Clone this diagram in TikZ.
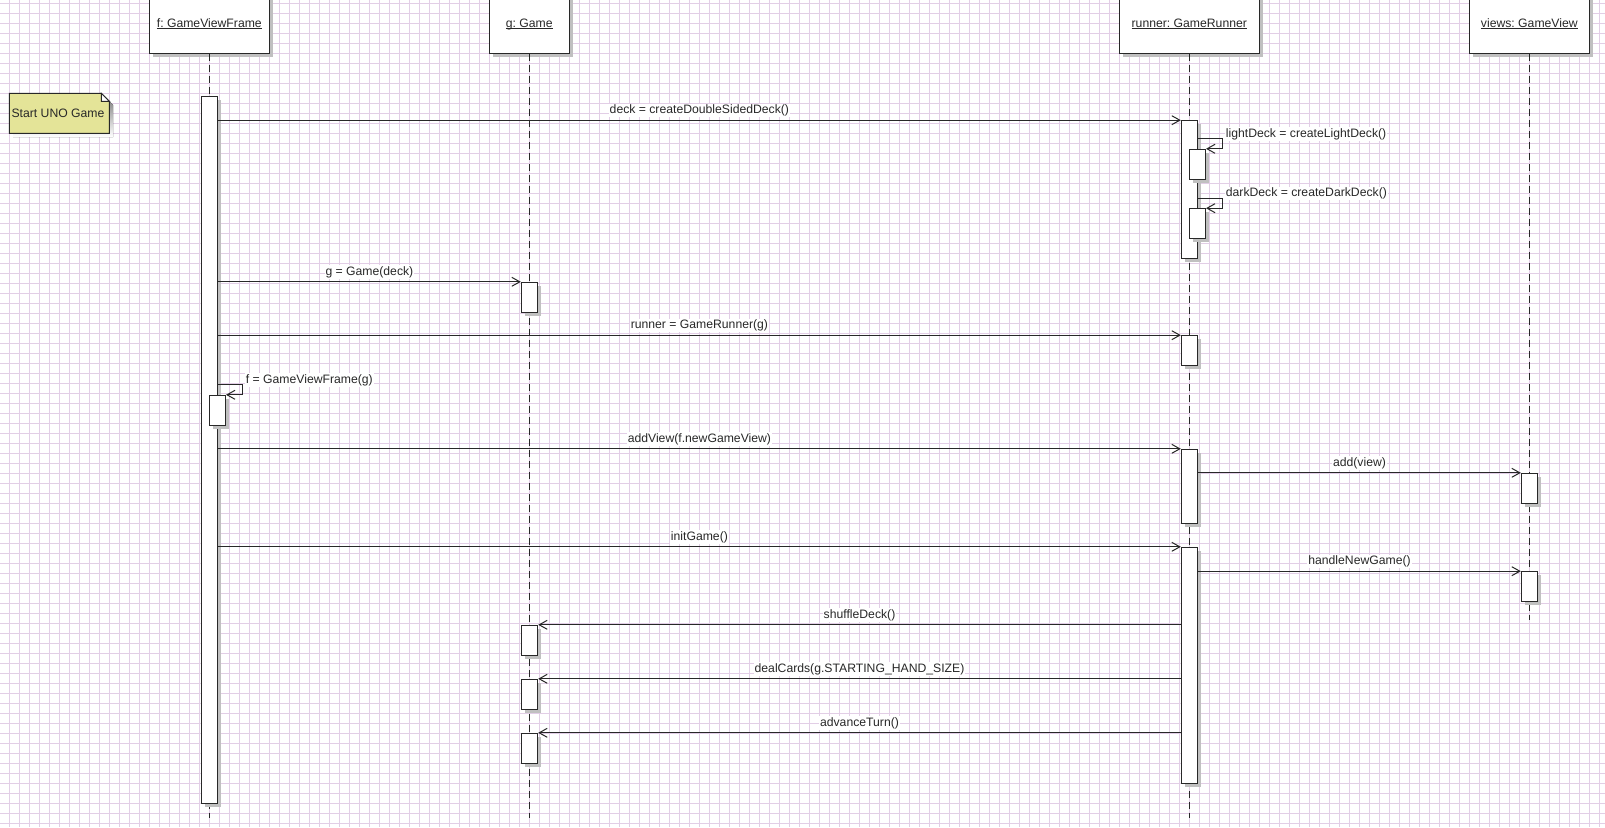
\documentclass[tikz,border=0pt]{standalone}
\usepackage{fontspec}
\setmainfont{Liberation Sans}
\usetikzlibrary{arrows.meta,shadows,calc}
\frenchspacing

\definecolor{gridc}{RGB}{226,206,230}
\definecolor{ink}{RGB}{40,40,40}
\definecolor{shade}{RGB}{192,192,192}
\definecolor{notefill}{RGB}{228,228,152}

% underlined object name with a fixed rule position
\newcommand{\objname}[1]{\setbox0\hbox{#1}\rlap{\color{ink}\rule[-2.3pt]{\wd0}{1pt}}\box0}

\tikzset{
  every node/.style={font=\fontsize{12.2}{14}\selectfont, text=ink},
  shadowed/.style={drop shadow={shadow xshift=3.5pt, shadow yshift=-3.5pt, fill=shade, opacity=1}},
  head/.style={draw=ink, line width=1pt, fill=white, minimum height=58.3pt,
    inner sep=0pt, text height=9pt, text depth=3pt, shadowed},
  bar/.style={draw=ink, line width=1pt, fill=white, minimum width=16.4pt,
    inner sep=0pt, shadowed},
  life/.style={draw=ink, line width=1pt, dash pattern=on 7pt off 4pt},
  msg/.style={draw=ink, line width=1pt, -{Straight Barb[length=8pt,width=9pt]}},
  lbl/.style={fill=white, inner sep=1pt, anchor=base, yshift=6.7pt},
  selflbl/.style={fill=white, inner sep=1pt, anchor=base west, xshift=2pt, yshift=1.8pt},
  gridline/.style={draw=gridc, line width=1pt},
}

\begin{document}
\begin{tikzpicture}[x=1pt, y=-1pt]
  \useasboundingbox (0,0) rectangle (1605,827);
  \fill[white] (0,0) rectangle (1605,827);

  % background grid
  \foreach \i in {0,...,159} \draw[gridline] ({9.5+10*\i},0) -- ({9.5+10*\i},827);
  \foreach \j in {0,...,82} \draw[gridline] (0,{3.5+10*\j}) -- (1605,{3.5+10*\j});

  % note
  \fill[shade] (13,97) -- (105,97) -- (113,105) -- (113,137) -- (13,137) -- cycle;
  \draw[ink, line width=1pt, fill=notefill]
    (9.3,93.3) -- (101.3,93.3) -- (109.3,101.3) -- (109.3,133.3) -- (9.3,133.3) -- cycle;
  \draw[ink, line width=1pt, fill=white] (101.3,93.3) -- (101.3,101.3) -- (109.3,101.3) -- cycle;
  \node (note) at (58,113.3) {Start UNO Game};

  % object heads
  \node[head, minimum width=120pt] (f) at (209.3,24.15) {\objname{f: GameViewFrame}};
  \node[head, minimum width=80pt]  (g) at (529.3,24.15) {\objname{g: Game}};
  \node[head, minimum width=140pt] (r) at (1189.3,24.15) {\objname{runner: GameRunner}};
  \node[head, minimum width=120pt] (v) at (1529.3,24.15) {\objname{views: GameView}};

  % lifeline ends
  \coordinate (fend) at (209.3,818);
  \coordinate (gend) at (529.3,818);
  \coordinate (rend) at (1189.3,818);
  \coordinate (vend) at (1529.3,620);

  \draw[life] (f.south) -- (fend);
  \draw[life] (g.south) -- (gend);
  \draw[life] (r.south) -- (rend);
  \draw[life] (v.south) -- (vend);

  % activation bars
  \node[bar, minimum height=706.6pt] (fA) at (209.3,450) {};
  \node[bar, minimum height=30pt] (fB) at (217.3,410.3) {};

  \node[bar, minimum height=30pt] (gA) at (529.5,297.3) {};
  \node[bar, minimum height=30pt] (gB) at (529.5,640.3) {};
  \node[bar, minimum height=30pt] (gC) at (529.5,694.3) {};
  \node[bar, minimum height=30pt] (gD) at (529.5,748.3) {};

  \node[bar, minimum height=137.6pt] (rA) at (1189.5,189.5) {};
  \node[bar, minimum height=30pt] (rB) at (1197.3,164.3) {};
  \node[bar, minimum height=30pt] (rC) at (1197.3,223.7) {};
  \node[bar, minimum height=30pt] (rD) at (1189.5,350.7) {};
  \node[bar, minimum height=74pt] (rE) at (1189.5,486.3) {};
  \node[bar, minimum height=235.7pt] (rF) at (1189.5,665.15) {};

  \node[bar, minimum height=30pt] (vA) at (1529.5,488.3) {};
  \node[bar, minimum height=30pt] (vB) at (1529.5,586.7) {};

  % messages
  \draw[msg] (fA.east |- rA.north) -- node[midway, lbl] {deck = createDoubleSidedDeck()} (rA.north west);

  \draw[msg] ($(rA.east |- rB.north)+(0,-10)$) -| ($(rB.north east)+(16.4,0)$)
    node[pos=0.5, selflbl] {lightDeck = createLightDeck()} -- (rB.north east);
  \draw[msg] ($(rA.east |- rC.north)+(0,-10)$) -| ($(rC.north east)+(16.4,0)$)
    node[pos=0.5, selflbl] {darkDeck = createDarkDeck()} -- (rC.north east);

  \draw[msg] (fA.east |- gA.north) -- node[midway, lbl] {g = Game(deck)} (gA.north west);
  \draw[msg] (fA.east |- rD.north) -- node[midway, lbl] {runner = GameRunner(g)} (rD.north west);

  \draw[msg] ($(fA.east |- fB.north)+(0,-10)$) -| ($(fB.north east)+(16.4,0)$)
    node[pos=0.5, selflbl] {f = GameViewFrame(g)} -- (fB.north east);

  \draw[msg] (fA.east |- rE.north) -- node[midway, lbl] {addView(f.newGameView)} (rE.north west);
  \draw[msg] (rE.east |- vA.north) -- node[midway, lbl] {add(view)} (vA.north west);
  \draw[msg] (fA.east |- rF.north) -- node[midway, lbl] {initGame()} (rF.north west);
  \draw[msg] (rF.east |- vB.north) -- node[midway, lbl] {handleNewGame()} (vB.north west);

  \draw[msg] (rF.west |- gB.north) -- node[midway, lbl] {shuffleDeck()} (gB.north east);
  \draw[msg] (rF.west |- gC.north) -- node[midway, lbl] {dealCards(g.STARTING\_HAND\_SIZE)} (gC.north east);
  \draw[msg] (rF.west |- gD.north) -- node[midway, lbl] {advanceTurn()} (gD.north east);
\end{tikzpicture}
\end{document}
